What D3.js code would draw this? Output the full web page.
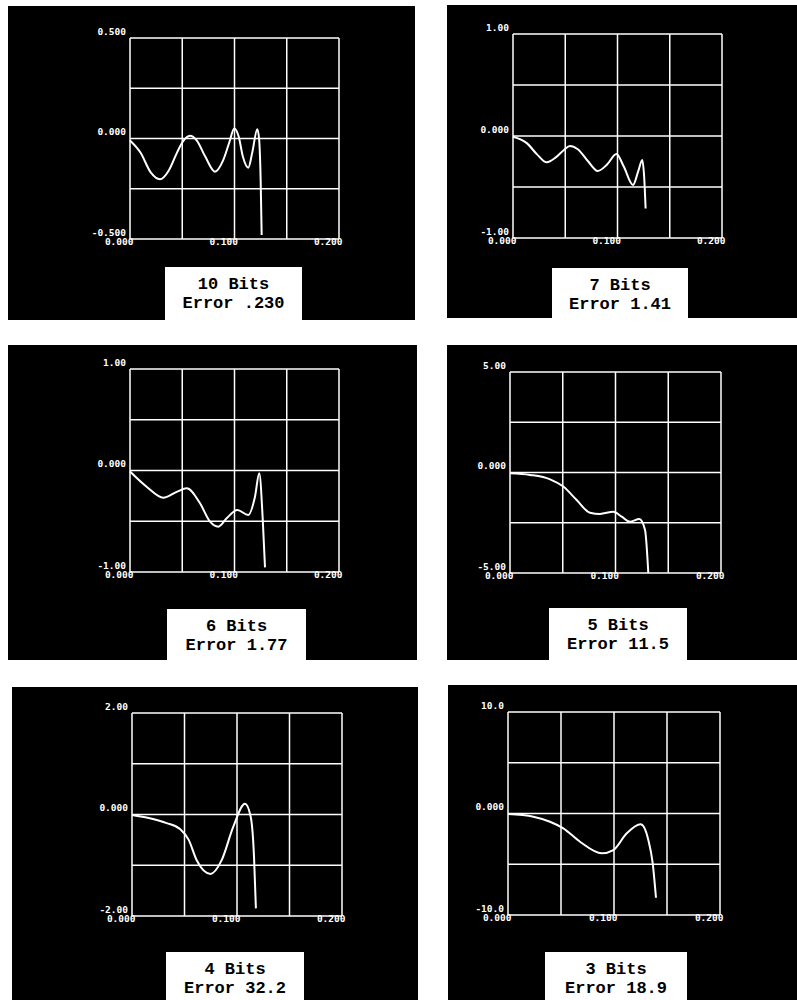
<!DOCTYPE html>
<html>
<head>
<meta charset="utf-8">
<script src="https://cdn.jsdelivr.net/npm/d3@7"></script>
<style>
  body { margin: 0; background: #fff; }
  svg { display: block; }
</style>
</head>
<body>
<div id="chart"></div>
<script>
// panel captions
const bits = ["10 Bits", "7 Bits", "6 Bits", "5 Bits", "4 Bits", "3 Bits"];
const errors = ["Error .230", "Error 1.41", "Error 1.77", "Error 11.5", "Error 32.2", "Error 18.9"];

// y range (symmetric) and the tick labels printed on each plot
const yMax = [0.5, 1, 1, 5, 2, 10];
const yLabels = [
  ["-0.500", "0.000", "0.500"],
  ["-1.00", "0.000", "1.00"],
  ["-1.00", "0.000", "1.00"],
  ["-5.00", "0.000", "5.00"],
  ["-2.00", "0.000", "2.00"],
  ["-10.0", "0.000", "10.0"]
];
const xTicks = [0, 0.1, 0.2];
const xLabels = ["0.000", "0.100", "0.200"];

// curves: [x, y]
const curve10 = [[0,-0.01],[0.010,-0.07],[0.020,-0.17],[0.0287,-0.203],[0.037,-0.16],[0.045,-0.07],
  [0.050,-0.02],[0.0574,0.014],[0.064,-0.01],[0.072,-0.09],[0.0813,-0.165],[0.089,-0.11],[0.095,-0.02],
  [0.0998,0.05],[0.104,0.01],[0.108,-0.09],[0.1132,-0.145],[0.117,-0.07],[0.1218,0.046],[0.1235,0.0],
  [0.125,-0.2],[0.126,-0.48]];
const curve7 = [[0,-0.007],[0.0132,-0.07],[0.0230,-0.18],[0.0322,-0.258],[0.041,-0.21],[0.0488,-0.137],
  [0.0545,-0.098],[0.062,-0.13],[0.072,-0.25],[0.0811,-0.343],[0.090,-0.28],[0.0990,-0.176],[0.106,-0.30],
  [0.1148,-0.48],[0.1200,-0.34],[0.1237,-0.235],[0.1255,-0.40],[0.1269,-0.71]];
const curve6 = [[0,-0.01],[0.0159,-0.16],[0.0319,-0.268],[0.0447,-0.21],[0.0543,-0.176],[0.0670,-0.323],
  [0.0766,-0.504],[0.0845,-0.553],[0.0925,-0.471],[0.1027,-0.389],[0.1132,-0.438],[0.1196,-0.258],
  [0.1237,-0.028],[0.1269,-0.455],[0.1292,-0.954]];
const curve5 = [[0,-0.04],[0.019,-0.12],[0.038,-0.34],[0.0505,-0.70],[0.0632,-1.37],[0.0758,-2.0],
  [0.0853,-2.06],[0.098,-1.95],[0.1059,-2.2],[0.1137,-2.45],[0.1226,-2.31],[0.128,-2.86],[0.1311,-5.0]];
const curve4 = [[0,-0.01],[0.017,-0.075],[0.033,-0.17],[0.046,-0.29],[0.054,-0.50],[0.0616,-0.90],
  [0.0749,-1.17],[0.0854,-0.90],[0.0965,-0.24],[0.1076,0.21],[0.113,-0.04],[0.1162,-0.83],[0.118,-1.85]];
const curve3 = [[0,-0.05],[0.0239,-0.31],[0.0396,-0.81],[0.0522,-1.46],[0.0679,-2.78],[0.0884,-3.92],
  [0.0994,-3.6],[0.112,-1.95],[0.1252,-1.06],[0.1324,-2.61],[0.1365,-4.9],[0.1396,-8.3]];
const curves = [curve10, curve7, curve6, curve5, curve4, curve3];

// layout: black card, plot frame, caption box
const layout = [
  {card:[8,6,415,320],   plot:[130,38,339,239],  box:[165,267,302,320]},
  {card:[447,5,797,318], plot:[513,34,722,238],  box:[552,268,688,318]},
  {card:[8,345,417,660], plot:[130,369,339,572], box:[167,609,306,660]},
  {card:[447,345,797,660],plot:[510,372,721,573],box:[549,608,687,660]},
  {card:[12,687,418,1000],plot:[132,713,342,916],box:[166,952,304,1000]},
  {card:[448,685,797,1000],plot:[508,712,720,915],box:[545,952,687,1000]}
];

const svg = d3.select("#chart").append("svg")
  .attr("width", 797)
  .attr("height", 1000);

svg.append("rect").attr("width", 797).attr("height", 1000).attr("fill", "#fff");

layout.forEach((L, i) => {
  const [cx0, cy0, cx1, cy1] = L.card;
  const [px0, py0, px1, py1] = L.plot;
  const [bx0, by0, bx1, by1] = L.box;

  svg.append("rect")
    .attr("x", cx0).attr("y", cy0)
    .attr("width", cx1 - cx0).attr("height", cy1 - cy0)
    .attr("fill", "#000");

  const x = d3.scaleLinear().domain([0, 0.2]).range([px0, px1]);
  const y = d3.scaleLinear().domain([-yMax[i], yMax[i]]).range([py1, py0]);

  const g = svg.append("g");

  // grid, 4 x 4
  const xGrid = d3.range(5).map(k => k * 0.05);
  const yGrid = d3.range(5).map(k => -yMax[i] + k * yMax[i] / 2);
  g.selectAll("line.v").data(xGrid).join("line")
    .attr("class", "v")
    .attr("x1", d => x(d)).attr("x2", d => x(d))
    .attr("y1", py0).attr("y2", py1)
    .attr("stroke", "#fff").attr("stroke-width", 1.5);
  g.selectAll("line.h").data(yGrid).join("line")
    .attr("class", "h")
    .attr("x1", px0).attr("x2", px1)
    .attr("y1", d => y(d)).attr("y2", d => y(d))
    .attr("stroke", "#fff").attr("stroke-width", 1.5);

  // y labels sit just above their line
  const yAx = g.append("g")
    .attr("transform", `translate(${px0},0)`)
    .call(d3.axisLeft(y)
      .tickValues([-yMax[i], 0, yMax[i]])
      .tickFormat((d, k) => yLabels[i][k])
      .tickSize(0).tickPadding(4));
  yAx.select(".domain").remove();
  yAx.selectAll("text")
    .attr("dy", "-4px")
    .attr("fill", "#fff")
    .style("font-family", "'DejaVu Sans Mono', monospace")
    .style("font-weight", "bold")
    .style("font-size", "9.5px");

  // x labels end at their tick, sitting on the bottom line
  const xAx = g.append("g")
    .attr("transform", `translate(0,${py1})`)
    .call(d3.axisBottom(x)
      .tickValues(xTicks)
      .tickFormat((d, k) => xLabels[k])
      .tickSize(0));
  xAx.select(".domain").remove();
  xAx.selectAll("text")
    .attr("y", 6).attr("dy", 0).attr("dx", 3)
    .attr("text-anchor", "end")
    .attr("fill", "#fff")
    .style("font-family", "'DejaVu Sans Mono', monospace")
    .style("font-weight", "bold")
    .style("font-size", "9.5px");

  // the curve
  const line = d3.line()
    .x(d => x(d[0]))
    .y(d => y(d[1]))
    .curve(d3.curveMonotoneX);
  g.append("path")
    .datum(curves[i])
    .attr("d", line)
    .attr("fill", "none")
    .attr("stroke", "#fff")
    .attr("stroke-width", 2);

  // caption box
  svg.append("rect")
    .attr("x", bx0).attr("y", by0)
    .attr("width", bx1 - bx0).attr("height", by1 - by0)
    .attr("fill", "#fff");
  const cap = svg.append("text")
    .attr("text-anchor", "middle")
    .attr("fill", "#000")
    .style("font-family", "'Courier New', 'Liberation Mono', monospace")
    .style("font-weight", "bold")
    .style("font-size", "17px");
  cap.append("tspan").attr("x", (bx0 + bx1) / 2).attr("y", by0 + 22).text(bits[i]);
  cap.append("tspan").attr("x", (bx0 + bx1) / 2).attr("y", by0 + 41).text(errors[i]);
});
</script>
</body>
</html>
